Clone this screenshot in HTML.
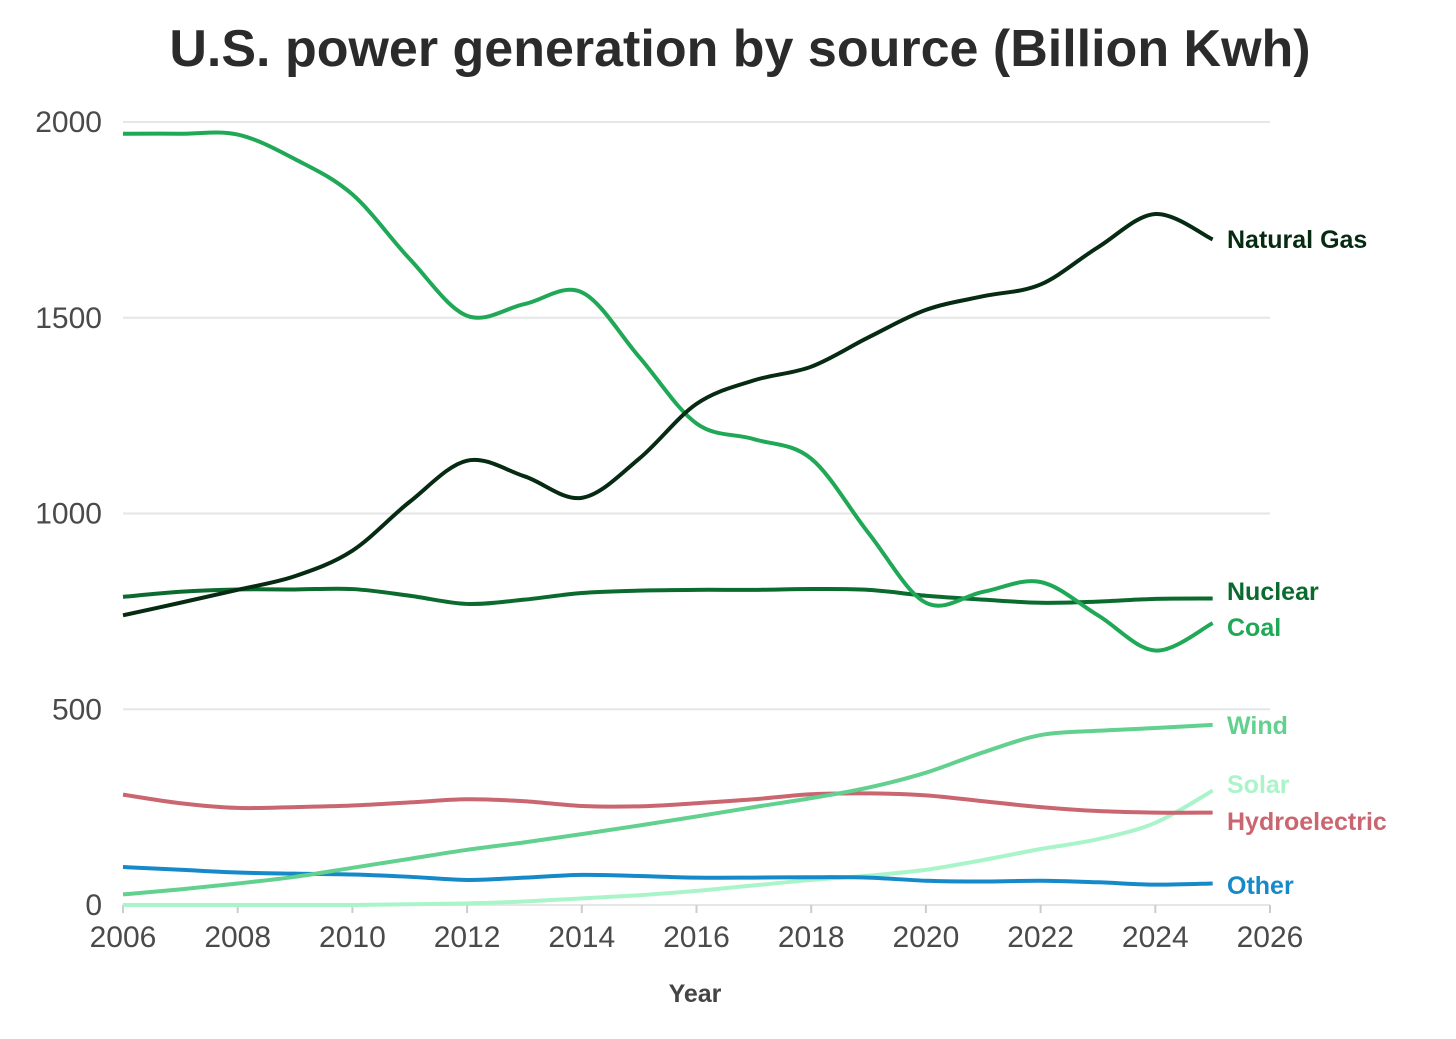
<!DOCTYPE html>
<html><head><meta charset="utf-8"><style>
body{margin:0;background:#fff;}
svg{display:block;font-family:"Liberation Sans",sans-serif;}
</style></head><body>
<svg id="chart" width="1456" height="1039">
<text x="740" y="66" text-anchor="middle" font-size="52" font-weight="bold" fill="#2b2b2b">U.S. power generation by source (Billion Kwh)</text>
<g id="grid"></g><g id="lines"></g><g id="labels"></g>
<text x="695" y="1002" text-anchor="middle" font-size="25" font-weight="bold" fill="#444">Year</text>
</svg>
<script>
const years=[2006,2007,2008,2009,2010,2011,2012,2013,2014,2015,2016,2017,2018,2019,2020,2021,2022,2023,2024,2025];
const coal=[1970,1970,1968,1905,1815,1650,1505,1535,1565,1400,1230,1190,1140,950,772,800,825,740,650,720];
const gas=[740,772,805,840,905,1030,1135,1095,1040,1140,1280,1340,1375,1450,1520,1555,1585,1680,1765,1700];
const nuclear=[787,800,806,806,807,790,769,780,797,803,805,805,807,805,790,780,772,775,782,783];
const wind=[27,40,55,72,95,118,141,160,181,203,226,250,273,300,338,390,434,445,452,460];
const solar=[0,0,0,0,0,2,4,9,17,25,36,50,64,75,90,115,143,168,210,292];
const hydro=[282,260,248,250,254,262,270,265,253,252,260,270,283,285,280,265,250,240,236,236];
const other=[97,90,83,80,78,72,64,70,77,74,70,70,71,70,62,60,62,58,52,55];
const yTicks=[0,500,1000,1500,2000];
const xTicks=[2006,2008,2010,2012,2014,2016,2018,2020,2022,2024,2026];
const seriesNames=["Natural Gas","Nuclear","Coal","Wind","Solar","Hydroelectric","Other"];
const seriesData=[gas,nuclear,coal,wind,solar,hydro,other];
const colors=["#062a12","#0b6b2e","#1fa855","#62d08e","#a9f5c9","#c9666f","#1689c8"];
const labelY=[239,591,627,725,784,821,885];
const ns="http://www.w3.org/2000/svg";
const X=v=>123+(v-2006)*(1270-123)/20;
const Y=v=>905-v*(905-122)/2000;
const grid=document.getElementById('grid');
function mk(t,a,p){const e=document.createElementNS(ns,t);for(const k in a)e.setAttribute(k,a[k]);p.appendChild(e);return e;}
yTicks.forEach(v=>{
 const l=mk('line',{x1:123,x2:1270,y1:Y(v),y2:Y(v),stroke:'#e6e6e6','stroke-width':2},grid);
 
 
 const t=mk('text',{x:102,y:Y(v)+10,'text-anchor':'end','font-size':30,fill:'#4a4a4a'},grid);t.textContent=v;
 
 
});
xTicks.forEach(v=>{
 const l=mk('line',{x1:X(v),x2:X(v),y1:905,y2:913,stroke:'#ccc','stroke-width':2},grid);
 
 
 const t=mk('text',{x:X(v),y:947,'text-anchor':'middle','font-size':30,fill:'#4a4a4a'},grid);t.textContent=v;
 
 
});
function path(d){
 const p=years.map((y,i)=>[X(y),Y(d[i])]);
 let s=`M${p[0][0]},${p[0][1]}`;
 for(let i=0;i<p.length-1;i++){
  const p0=p[i-1]||p[i],p1=p[i],p2=p[i+1],p3=p[i+2]||p2;
  const c1=[p1[0]+(p2[0]-p0[0])/6,p1[1]+(p2[1]-p0[1])/6];
  const c2=[p2[0]-(p3[0]-p1[0])/6,p2[1]-(p3[1]-p1[1])/6];
  s+=`C${c1[0]},${c1[1]} ${c2[0]},${c2[1]} ${p2[0]},${p2[1]}`;
 }
 return s;
}
const lines=document.getElementById('lines'),labels=document.getElementById('labels');
[4,6,5,3,1,2,0].forEach(i=>{
 const pth=mk('path',{d:path(seriesData[i]),fill:'none',stroke:colors[i],'stroke-width':4},lines);
 
 
 const t=mk('text',{x:1227,y:labelY[i]+9,'font-size':25,'font-weight':'bold',fill:colors[i]},labels);
 t.textContent=seriesNames[i];
 
 
});
</script>
</body></html>
